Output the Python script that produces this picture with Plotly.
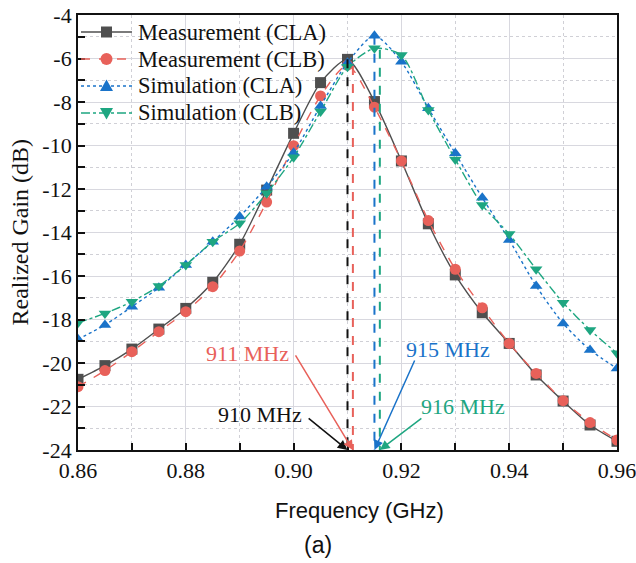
import plotly.graph_objects as go

freq = [0.860, 0.865, 0.870, 0.875, 0.880, 0.885, 0.890, 0.895, 0.900, 0.905, 0.910,
        0.915, 0.920, 0.925, 0.930, 0.935, 0.940, 0.945, 0.950, 0.955, 0.960]

meas_cla = [-20.75, -20.12, -19.36, -18.44, -17.49, -16.29, -14.54, -12.05, -9.44, -7.11, -6.04,
            -7.98, -10.71, -13.60, -15.95, -17.69, -19.10, -20.55, -21.75, -22.85, -23.60]
meas_clb = [-21.09, -20.35, -19.48, -18.56, -17.64, -16.49, -14.85, -12.60, -10.01, -7.72, -6.30,
            -8.24, -10.71, -13.45, -15.69, -17.46, -19.10, -20.48, -21.73, -22.74, -23.54]
sim_cla = [-18.91, -18.25, -17.41, -16.54, -15.49, -14.42, -13.27, -11.90, -10.33, -8.18, -6.19,
           -4.95, -6.15, -8.29, -10.36, -12.40, -14.34, -16.46, -18.18, -19.40, -20.25]
sim_clb = [-18.15, -17.72, -17.18, -16.46, -15.49, -14.42, -13.58, -12.20, -10.54, -8.44, -6.38,
           -5.53, -5.84, -8.37, -10.64, -12.74, -14.07, -15.69, -17.23, -18.48, -19.55]

series_names = ["Measurement (CLA)", "Measurement (CLB)", "Simulation (CLA)", "Simulation (CLB)"]
series_values = [meas_cla, meas_clb, sim_cla, sim_clb]
colors = ["#4f4f4f", "#e8615a", "#1a73c9", "#1ea681"]
dashes = ["solid", "dash", "dot", "dashdot"]
symbols = ["square", "circle", "triangle-up", "triangle-down"]

res_freq = [0.910, 0.911, 0.915, 0.916]
res_gain = [-6.04, -6.35, -4.95, -5.60]
res_labels = ["910 MHz", "911 MHz", "915 MHz", "916 MHz"]
res_colors = ["#111111", "#e8615a", "#1a73c9", "#1ea681"]
# label text centre (freq, gain) and arrow tail (freq, gain)
label_pos = [(0.8938, -22.39), (0.8914, -19.54), (0.9287, -19.40), (0.9314, -22.02)]
arrow_tail = [(0.9027, -22.53), (0.9003, -19.63), (0.9225, -19.86), (0.9238, -22.53)]

x_ticks = [0.86, 0.88, 0.90, 0.92, 0.94, 0.96]
x_tick_labels = ["0.86", "0.88", "0.90", "0.92", "0.94", "0.96"]
y_ticks = [-24, -22, -20, -18, -16, -14, -12, -10, -8, -6, -4]
y_tick_labels = ["-24", "-22", "-20", "-18", "-16", "-14", "-12", "-10", "-8", "-6", "-4"]

y_min, y_max = -24, -4
x_min, x_max = 0.86, 0.96

SERIF = "Liberation Serif"
SANS = "Liberation Sans"

fig = go.Figure()

for name, vals, c, d, s in zip(series_names, series_values, colors, dashes, symbols):
    fig.add_trace(go.Scatter(
        x=freq, y=vals, name=name, mode="lines+markers", showlegend=False,
        line=dict(color=c, width=1.4, dash=d, shape="spline", smoothing=0.7),
        marker=dict(symbol=s, size=11, color=c),
    ))

for f, g, c in zip(res_freq, res_gain, res_colors):
    fig.add_trace(go.Scatter(
        x=[f, f], y=[g, y_min], mode="lines", showlegend=False, hoverinfo="skip",
        line=dict(color=c, width=2, dash="dash"),
    ))

annotations = []
for lab, c, (tx, ty), (ax, ay), f in zip(res_labels, res_colors, label_pos, arrow_tail, res_freq):
    annotations.append(dict(
        x=f, y=y_min, xref="x", yref="y", ax=ax, ay=ay, axref="x", ayref="y",
        text="", showarrow=True, arrowhead=2, arrowsize=1.3, arrowwidth=1.5,
        arrowcolor=c, borderpad=0,
    ))
    annotations.append(dict(
        x=tx, y=ty, xref="x", yref="y", text=lab, showarrow=False,
        xanchor="center", yanchor="middle",
        font=dict(family=SERIF, size=22, color=c),
    ))

annotations.append(dict(
    x=0, y=0.5, xref="paper", yref="paper", xshift=-59, xanchor="center", yanchor="middle",
    text="Realized Gain (dB)", textangle=-90, showarrow=False,
    font=dict(family=SERIF, size=24, color="#111"),
))
annotations.append(dict(
    x=0.523, y=-0.138, xref="paper", yref="paper", xanchor="center", yanchor="middle",
    text="Frequency (GHz)", showarrow=False, font=dict(family=SANS, size=22, color="#111"),
))
annotations.append(dict(
    x=0.445, y=-0.218, xref="paper", yref="paper", xanchor="center", yanchor="middle",
    text="(a)", showarrow=False, font=dict(family=SANS, size=23, color="#111"),
))

# manual legend (pixel geometry of the plot area: x 78..617, y 15..450)
PW, PH = 539.0, 435.0
shapes = []
row_px = [32, 59, 86, 113]
for name, c, d, s, ry in zip(series_names, colors, dashes, symbols, row_px):
    yp = (450 - ry) / PH
    shapes.append(dict(type="line", xref="paper", yref="paper",
                       x0=(81 - 78) / PW, x1=(132 - 78) / PW, y0=yp, y1=yp,
                       line=dict(color=c, width=1.4, dash=d)))
    xm = (106.5 - 78) / PW
    common = dict(xref="paper", yref="paper", xsizemode="pixel", ysizemode="pixel",
                  xanchor=xm, yanchor=yp, fillcolor=c, line=dict(width=0))
    if s == "square":
        shapes.append(dict(type="rect", x0=-5.5, x1=5.5, y0=-5.5, y1=5.5, **common))
    elif s == "circle":
        shapes.append(dict(type="circle", x0=-6, x1=6, y0=-6, y1=6, **common))
    elif s == "triangle-up":
        shapes.append(dict(type="path", path="M -6.5,-5 L 6.5,-5 L 0,6.5 Z", **common))
    else:
        shapes.append(dict(type="path", path="M -6.5,5 L 6.5,5 L 0,-6.5 Z", **common))
    annotations.append(dict(
        x=(136 - 78) / PW, y=yp, xref="paper", yref="paper", xanchor="left", yanchor="middle",
        text=name, showarrow=False, font=dict(family=SERIF, size=22.5, color="#111"),
    ))

fig.update_layout(
    width=636, height=563,
    margin=dict(l=78, r=19, t=15, b=113, autoexpand=False),
    paper_bgcolor="white", plot_bgcolor="white",
    font=dict(family=SERIF, size=22, color="#111"),
    annotations=annotations, shapes=shapes,
    showlegend=False,
)

fig.update_xaxes(
    range=[x_min, x_max + 1e-9], tickvals=x_ticks, ticktext=x_tick_labels,
    ticklabeloverflow="allow", automargin=False,
    ticks="inside", ticklen=7, tickwidth=1.5, tickcolor="#111",
    showline=True, linecolor="#111", linewidth=1.8, mirror=True,
    showgrid=True, gridcolor="#d8d8df", gridwidth=1,
    minor=dict(dtick=0.01, tick0=0.86, ticks="inside", ticklen=7, tickcolor="#111", showgrid=True,
               gridcolor="#d0d0d6", griddash="dot", gridwidth=1),
    zeroline=False, tickfont=dict(family=SERIF, size=22, color="#111"),
)
fig.update_yaxes(
    range=[y_min, y_max], tickvals=y_ticks, ticktext=y_tick_labels,
    ticklabeloverflow="allow", automargin=False,
    ticks="inside", ticklen=7, tickwidth=1.5, tickcolor="#111",
    showline=True, linecolor="#111", linewidth=1.8, mirror=True,
    showgrid=True, gridcolor="#d8d8df", gridwidth=1,
    minor=dict(dtick=1, tick0=-24, ticks="inside", ticklen=7, tickcolor="#111", showgrid=True,
               gridcolor="#d0d0d6", griddash="dot", gridwidth=1),
    zeroline=False, tickfont=dict(family=SERIF, size=22, color="#111"),
)

fig.write_html("out.html")
